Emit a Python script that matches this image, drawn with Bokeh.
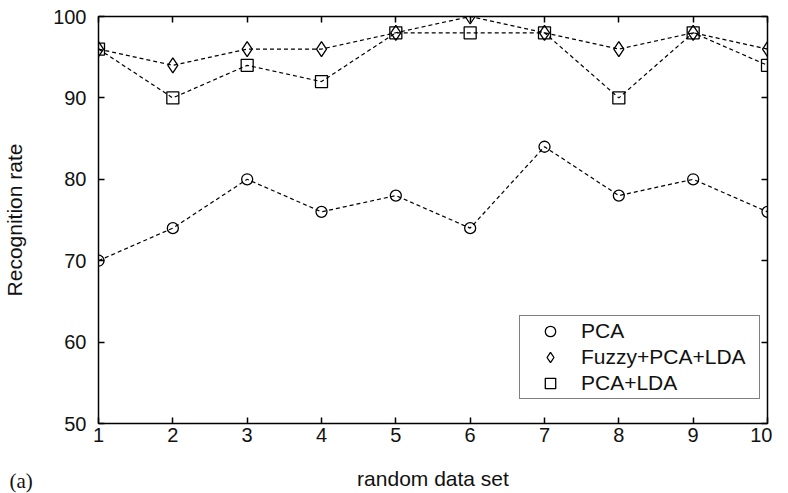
from bokeh.plotting import figure
from bokeh.models import Range1d, FixedTicker, LinearAxis, Legend, LegendItem, Title
from bokeh.embed import file_html
from bokeh.resources import INLINE

data_sets = [1, 2, 3, 4, 5, 6, 7, 8, 9, 10]
pca = [70, 74, 80, 76, 78, 74, 84, 78, 80, 76]
fuzzy_pca_lda = [96, 94, 96, 96, 98, 100, 98, 96, 98, 96]
pca_lda = [96, 90, 94, 92, 98, 98, 98, 90, 98, 94]
y_ticks = [50, 60, 70, 80, 90, 100]

FONT = "Liberation Sans"

p = figure(width=772, height=493, output_backend="svg", toolbar_location=None,
           x_range=Range1d(1, 10), y_range=Range1d(50, 100),
           x_axis_location=None, y_axis_location=None,
           min_border_left=89, min_border_right=5, min_border_top=16, min_border_bottom=70)
p.grid.visible = False
p.outline_line_color = "black"
p.outline_line_width = 1.5
p.background_fill_color = "white"
p.border_fill_color = "white"

def make_axis(ticks, show_labels):
    ax = LinearAxis(ticker=FixedTicker(ticks=ticks))
    ax.axis_line_color = None
    ax.major_tick_in = 6
    ax.major_tick_out = 0
    ax.major_tick_line_width = 1.5
    ax.major_tick_line_color = "black"
    ax.minor_tick_line_color = None
    if show_labels:
        ax.major_label_text_font = FONT
        ax.major_label_text_font_size = "20px"
        ax.major_label_text_color = "#111111"
    else:
        ax.major_label_text_font_size = "0px"
        ax.major_label_text_color = None
        ax.major_label_standoff = 0
    return ax

xb = make_axis(data_sets, True)
xb.major_label_standoff = 4
xb.axis_label = "random data set"
xb.axis_label_text_font = FONT
xb.axis_label_text_font_size = "21px"
xb.axis_label_text_font_style = "normal"
xb.axis_label_text_color = "#111111"
xb.axis_label_standoff = 22
yl = make_axis(y_ticks, True)
yl.major_label_standoff = 12
yl.axis_label = "Recognition rate"
yl.axis_label_text_font = FONT
yl.axis_label_text_font_size = "21px"
yl.axis_label_text_font_style = "normal"
yl.axis_label_text_color = "#111111"
yl.axis_label_standoff = 24
xt = make_axis(data_sets, False)
yr = make_axis(y_ticks, False)
p.add_layout(xb, "below")
p.add_layout(yl, "left")
p.add_layout(xt, "above")
p.add_layout(yr, "right")

tag = Title(text="(a)", align="left", offset=-89, vertical_align="top", standoff=-48,
            text_font="Liberation Serif", text_font_size="21px",
            text_font_style="normal", text_color="#111111")
p.add_layout(tag, "below")

dash = "4 3"
r1l = p.line(data_sets, pca, line_color="black", line_dash=dash, line_width=1.2)
r1m = p.scatter(data_sets, pca, marker="circle", size=11, fill_color=None,
                line_color="black", line_width=1.3)
r2l = p.line(data_sets, fuzzy_pca_lda, line_color="black", line_dash=dash, line_width=1.2)
r2m = p.scatter(data_sets, fuzzy_pca_lda, marker="diamond", size=15, fill_color=None,
                line_color="black", line_width=1.3)
r3l = p.line(data_sets, pca_lda, line_color="black", line_dash=dash, line_width=1.2)
r3m = p.scatter(data_sets, pca_lda, marker="square", size=12, fill_color=None,
                line_color="black", line_width=1.3)

legend = Legend(items=[
    LegendItem(label="PCA", renderers=[r1m]),
    LegendItem(label="Fuzzy+PCA+LDA", renderers=[r2m]),
    LegendItem(label="PCA+LDA", renderers=[r3m]),
], location=(421, 24))
legend.padding = 2
legend.margin = 0
legend.spacing = 0
legend.glyph_width = 56
legend.glyph_height = 26
legend.label_height = 26
legend.label_width = 176
legend.label_standoff = 3
legend.label_text_font = FONT
legend.label_text_font_size = "21px"
legend.label_text_color = "#111111"
legend.border_line_color = "black"
legend.border_line_width = 1.5
legend.background_fill_color = "white"
legend.background_fill_alpha = 1.0
p.add_layout(legend, "center")

open("out.html", "w").write(file_html(p, INLINE))
